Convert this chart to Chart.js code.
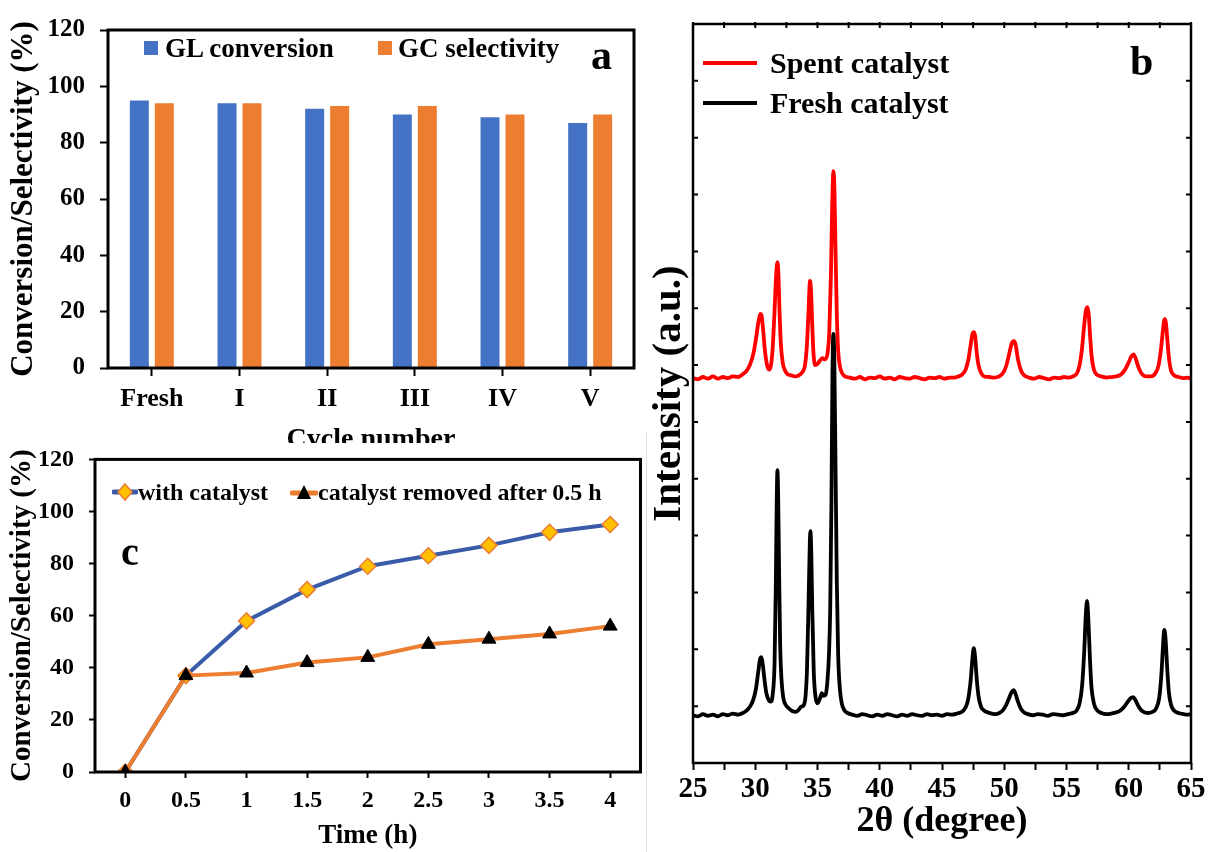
<!DOCTYPE html>
<html>
<head>
<meta charset="utf-8">
<script src="https://cdn.jsdelivr.net/npm/chart.js@4.4.0/dist/chart.umd.min.js"></script>
<style>
  body { margin: 0; background: #fff; }
  #page { position: relative; width: 1209px; height: 852px; overflow: hidden;
          font-family: "Liberation Serif", "Times New Roman", serif; font-weight: bold; color: #000; }
  .panel { position: absolute; }
  .txt { position: absolute; white-space: nowrap; line-height: 1; }
  .item { position: absolute; display: flex; align-items: center; white-space: nowrap; line-height: 1; }
</style>
</head>
<body>
<div id="page">
  <div class="panel" style="left:0;top:0;width:650px;height:443px;overflow:hidden">
    <canvas id="barChart" width="650" height="475"></canvas>
  </div>
  <div class="panel" style="left:0;top:430px;width:650px;height:422px">
    <canvas id="timeChart" width="650" height="422"></canvas>
  </div>
  <div class="panel" style="left:646px;top:432px;width:1px;height:420px;background:#dcdcdc"></div>
  <div class="panel" style="left:640px;top:0;width:569px;height:852px">
    <canvas id="xrdChart" width="569" height="852"></canvas>
  </div>
  <div class="txt" style="left:591px;top:34px;font-size:42px">a</div>
  <div class="txt" style="left:1130px;top:40px;font-size:42px">b</div>
  <div class="txt" style="left:121px;top:532px;font-size:40px">c</div>
</div>
<script>
Chart.defaults.font.family = '"Liberation Serif", "Times New Roman", serif';
Chart.defaults.font.weight = 'bold';
Chart.defaults.color = '#000';
Chart.defaults.animation = false;
Chart.defaults.plugins.legend.display = false;
Chart.defaults.plugins.tooltip.enabled = false;

// (a) recycling test
var cycles = ['Fresh', 'I', 'II', 'III', 'IV', 'V'];
var glConversion = [95, 94, 92, 90, 89, 87];
var gcSelectivity = [94, 94, 93, 93, 90, 90];

// (c) hot filtration test
var timeLabels = ['0', '0.5', '1', '1.5', '2', '2.5', '3', '3.5', '4'];
var withCatalyst = [0, 37, 58, 70, 79, 83, 87, 92, 95];
var catalystRemoved = [0, 37, 38, 42, 44, 49, 51, 53, 56];

// (b) XRD patterns, [2theta, intensity a.u.]
var spentPattern = [
  [25.0,6.77],[25.4,6.75],[25.8,6.79],[26.2,6.76],[26.6,6.80],[27.0,6.76],[27.4,6.79],[27.8,6.77],
  [28.2,6.80],[28.6,6.79],[29.0,6.84],[29.3,6.90],[29.6,7.02],[29.85,7.20],[30.05,7.45],[30.25,7.75],
  [30.4,7.90],[30.5,7.88],[30.62,7.65],[30.78,7.25],[30.95,7.00],[31.1,6.92],[31.25,6.98],[31.4,7.30],
  [31.55,7.95],[31.67,8.55],[31.78,8.81],[31.86,8.60],[31.95,7.95],[32.05,7.40],[32.2,7.05],[32.4,6.90],
  [32.6,6.84],[32.9,6.82],[33.2,6.80],[33.5,6.82],[33.8,6.88],[34.0,7.00],[34.15,7.35],[34.28,7.95],
  [34.4,8.48],[34.48,8.30],[34.57,7.75],[34.68,7.20],[34.82,7.00],[35.0,7.02],[35.2,7.08],[35.4,7.12],
  [35.6,7.10],[35.8,7.20],[35.95,7.60],[36.08,8.60],[36.18,9.80],[36.28,10.41],[36.36,10.10],[36.45,9.00],
  [36.55,7.90],[36.66,7.25],[36.8,6.98],[36.97,6.86],[37.2,6.80],[37.6,6.78],[38.0,6.76],[38.4,6.79],
  [38.8,6.75],[39.2,6.78],[39.6,6.77],[40.0,6.80],[40.4,6.76],[40.8,6.78],[41.2,6.75],[41.6,6.79],
  [42.0,6.77],[42.4,6.76],[42.8,6.79],[43.2,6.77],[43.6,6.75],[44.0,6.78],[44.4,6.77],[44.8,6.79],
  [45.2,6.76],[45.6,6.78],[46.0,6.78],[46.3,6.80],[46.6,6.83],[46.9,6.92],[47.1,7.08],[47.3,7.35],
  [47.45,7.55],[47.57,7.58],[47.67,7.50],[47.8,7.20],[47.95,6.98],[48.15,6.86],[48.4,6.80],[48.8,6.79],
  [49.2,6.78],[49.6,6.80],[49.9,6.86],[50.15,6.98],[50.4,7.20],[50.6,7.38],[50.78,7.42],[50.92,7.35],
  [51.1,7.10],[51.35,6.90],[51.6,6.82],[52.0,6.78],[52.4,6.76],[52.8,6.79],[53.2,6.77],[53.6,6.75],
  [54.0,6.78],[54.4,6.77],[54.8,6.79],[55.2,6.78],[55.6,6.81],[55.85,6.86],[56.05,7.00],[56.25,7.30],
  [56.42,7.70],[56.55,7.95],[56.68,8.02],[56.78,7.90],[56.9,7.50],[57.02,7.15],[57.2,6.92],[57.45,6.83],
  [57.8,6.80],[58.2,6.78],[58.6,6.79],[59.0,6.80],[59.4,6.84],[59.7,6.92],[60.0,7.05],[60.2,7.15],
  [60.38,7.19],[60.55,7.12],[60.75,6.98],[61.0,6.86],[61.4,6.80],[61.8,6.80],[62.15,6.86],[62.4,7.00],
  [62.6,7.30],[62.75,7.62],[62.88,7.81],[62.98,7.75],[63.1,7.45],[63.24,7.10],[63.4,6.90],[63.65,6.82],
  [64.0,6.79],[64.4,6.77],[64.7,6.78],[65.0,6.76]
];
var freshPattern = [
  [25.0,0.84],[25.4,0.82],[25.8,0.86],[26.2,0.83],[26.6,0.85],[27.0,0.82],[27.4,0.86],[27.8,0.84],
  [28.2,0.87],[28.6,0.85],[29.0,0.88],[29.3,0.92],[29.6,1.00],[29.85,1.12],[30.05,1.30],[30.25,1.62],
  [30.4,1.84],[30.5,1.86],[30.6,1.74],[30.75,1.45],[30.9,1.22],[31.1,1.10],[31.25,1.08],[31.4,1.20],
  [31.55,1.75],[31.65,3.10],[31.72,4.50],[31.78,5.15],[31.84,4.70],[31.92,3.30],[32.0,2.10],[32.1,1.50],
  [32.25,1.15],[32.45,1.02],[32.7,0.96],[33.0,0.91],[33.3,0.90],[33.5,0.94],[33.7,0.99],[33.9,1.02],
  [34.05,1.20],[34.15,1.60],[34.28,2.80],[34.38,3.85],[34.43,4.08],[34.5,3.70],[34.58,2.70],[34.7,1.60],
  [34.85,1.15],[35.0,1.05],[35.2,1.14],[35.35,1.23],[35.5,1.18],[35.65,1.20],[35.8,1.45],[35.92,1.90],
  [36.02,2.70],[36.12,4.60],[36.2,6.80],[36.27,7.55],[36.35,7.10],[36.45,5.20],[36.55,3.20],[36.66,1.90],
  [36.8,1.30],[36.95,1.05],[37.15,0.93],[37.4,0.88],[37.8,0.85],[38.2,0.83],[38.6,0.86],[39.0,0.84],
  [39.4,0.82],[39.8,0.85],[40.2,0.83],[40.6,0.86],[41.0,0.84],[41.4,0.82],[41.8,0.85],[42.2,0.83],
  [42.6,0.86],[43.0,0.84],[43.4,0.83],[43.8,0.86],[44.2,0.84],[44.6,0.85],[45.0,0.83],[45.4,0.86],
  [45.8,0.85],[46.2,0.87],[46.6,0.90],[46.9,0.98],[47.1,1.12],[47.3,1.45],[47.45,1.85],[47.55,2.02],
  [47.65,1.88],[47.8,1.45],[47.95,1.15],[48.15,0.98],[48.4,0.92],[48.7,0.89],[49.0,0.87],[49.3,0.86],
  [49.6,0.88],[49.9,0.93],[50.15,1.02],[50.4,1.15],[50.6,1.25],[50.75,1.28],[50.9,1.22],[51.1,1.08],
  [51.35,0.95],[51.6,0.89],[51.9,0.86],[52.3,0.84],[52.7,0.86],[53.1,0.85],[53.5,0.83],[53.9,0.86],
  [54.3,0.85],[54.7,0.84],[55.1,0.86],[55.5,0.88],[55.8,0.92],[56.05,1.05],[56.25,1.35],[56.42,1.95],
  [56.55,2.60],[56.65,2.85],[56.75,2.55],[56.88,1.85],[57.0,1.35],[57.2,1.05],[57.45,0.93],[57.8,0.88],
  [58.2,0.86],[58.6,0.87],[59.0,0.89],[59.3,0.92],[59.6,0.98],[59.9,1.07],[60.15,1.14],[60.35,1.16],
  [60.55,1.10],[60.8,0.99],[61.1,0.91],[61.5,0.88],[61.9,0.90],[62.2,0.96],[62.45,1.15],[62.62,1.55],
  [62.75,2.05],[62.85,2.34],[62.95,2.20],[63.08,1.70],[63.22,1.25],[63.4,1.02],[63.65,0.92],[64.0,0.88],
  [64.4,0.86],[64.7,0.85],[65.0,0.86]
];

// box around the plot area
var frame = {
  id: 'frame',
  afterDraw: function(chart, args, opts) {
    var a = chart.chartArea, ctx = chart.ctx;
    ctx.save();
    ctx.strokeStyle = '#000';
    ctx.lineWidth = opts.width || 3;
    ctx.strokeRect(a.left, a.top, a.right - a.left, a.bottom - a.top);
    ctx.restore();
  }
};

// ticks pointing into the plot (panel b)
var innerTicks = {
  id: 'innerTicks',
  afterDraw: function(chart) {
    var a = chart.chartArea, ctx = chart.ctx, sx = chart.scales.x, sy = chart.scales.y;
    ctx.save();
    ctx.strokeStyle = '#000';
    ctx.lineWidth = 2;
    ctx.beginPath();
    sy.ticks.forEach(function(t) {
      var py = sy.getPixelForValue(t.value);
      ctx.moveTo(a.left, py); ctx.lineTo(a.left + 5, py);
      ctx.moveTo(a.right, py); ctx.lineTo(a.right - 5, py);
    });
    sx.ticks.forEach(function(t) {
      var px = sx.getPixelForValue(t.value);
      ctx.moveTo(px, a.top - 2); ctx.lineTo(px, a.top + 4);
    });
    ctx.stroke();
    ctx.restore();
  }
};

var BLUE = '#4472C4', ORANGE = '#ED7D31', LINEBLUE = '#3A5BA7';

// ---------- (a) bar chart ----------
var barChart = new Chart(document.getElementById('barChart'), {
  type: 'bar',
  data: {
    labels: cycles,
    datasets: [
      { label: 'GL conversion', data: glConversion, backgroundColor: BLUE },
      { label: 'GC selectivity', data: gcSelectivity, backgroundColor: ORANGE }
    ]
  },
  options: {
    responsive: false,
    devicePixelRatio: 1,
    layout: { padding: { left: 0, top: 25, right: 16, bottom: 0 } },
    datasets: { bar: { categoryPercentage: 0.57, barPercentage: 0.76 } },
    scales: {
      x: {
        afterFit: function(s) { s.height = 107; },
        grid: { offset: false, drawOnChartArea: false, tickLength: 8, tickWidth: 2, tickColor: '#000' },
        border: { display: false },
        ticks: { font: { size: 26 }, padding: 8 },
        title: { display: true, text: 'Cycle number', font: { size: 28, lineHeight: 1 }, padding: { top: 0, bottom: 21 } }
      },
      y: {
        min: 0, max: 120,
        afterFit: function(s) { s.width = 108; },
        grid: { drawOnChartArea: false, tickLength: 8, tickWidth: 2, tickColor: '#000' },
        border: { display: false },
        ticks: { stepSize: 20, font: { size: 25 }, padding: 15 },
        title: { display: true, text: 'Conversion/Selectivity (%)', font: { size: 31, lineHeight: 1 }, padding: { top: 8, bottom: 0 } }
      }
    },
    plugins: { frame: { width: 3 } }
  },
  plugins: [frame]
});

// ---------- (c) time course ----------
var timeChart = new Chart(document.getElementById('timeChart'), {
  type: 'line',
  data: {
    labels: timeLabels,
    datasets: [
      { label: 'with catalyst', data: withCatalyst, order: 1,
        borderColor: LINEBLUE, borderWidth: 4, tension: 0,
        pointStyle: 'rectRot', pointRadius: 8, pointBackgroundColor: '#FFC000',
        pointBorderColor: ORANGE, pointBorderWidth: 1.5 },
      { label: 'catalyst removed after 0.5 h', data: catalystRemoved, order: 0,
        borderColor: ORANGE, borderWidth: 4, tension: 0,
        pointStyle: 'triangle', pointRadius: 8, pointBackgroundColor: '#000',
        pointBorderColor: '#000', pointBorderWidth: 1 }
    ]
  },
  options: {
    responsive: false,
    devicePixelRatio: 1,
    layout: { padding: { left: 0, top: 25, right: 7, bottom: 0 } },
    scales: {
      x: {
        offset: true,
        afterFit: function(s) { s.height = 80; },
        grid: { offset: false, drawOnChartArea: false, tickLength: 6, tickWidth: 2, tickColor: '#000' },
        border: { display: false },
        ticks: { font: { size: 24 }, padding: 8 },
        title: { display: true, text: 'Time (h)', font: { size: 27, lineHeight: 1 }, padding: { top: 0, bottom: 2 } }
      },
      y: {
        min: 0, max: 120,
        afterFit: function(s) { s.width = 95; },
        grid: { drawOnChartArea: false, tickLength: 6, tickWidth: 2, tickColor: '#000' },
        border: { display: false },
        ticks: { stepSize: 20, font: { size: 24 }, padding: 15 },
        title: { display: true, text: 'Conversion/Selectivity (%)', font: { size: 29, lineHeight: 1 }, padding: { top: 8, bottom: 0 } }
      }
    },
    plugins: { frame: { width: 3 } }
  },
  plugins: [frame]
});

// ---------- (b) XRD ----------
function toPoints(pattern) {
  return pattern.map(function(p) { return { x: p[0], y: p[1] }; });
}
var xrdChart = new Chart(document.getElementById('xrdChart'), {
  type: 'line',
  data: {
    datasets: [
      { label: 'Spent catalyst', data: toPoints(spentPattern), order: 1,
        borderColor: '#FF0000', borderWidth: 3.8, pointRadius: 0, cubicInterpolationMode: 'monotone' },
      { label: 'Fresh catalyst', data: toPoints(freshPattern), order: 0,
        borderColor: '#000', borderWidth: 3.8, pointRadius: 0, cubicInterpolationMode: 'monotone' }
    ]
  },
  options: {
    responsive: false,
    devicePixelRatio: 1,
    layout: { padding: { left: 0, top: 24, right: 18, bottom: 0 } },
    scales: {
      x: {
        type: 'linear', min: 25, max: 65,
        afterFit: function(s) { s.height = 89; },
        grid: { drawOnChartArea: false, tickLength: 7, tickWidth: 2, tickColor: '#000' },
        border: { display: false },
        ticks: { stepSize: 2.5, font: { size: 29 }, padding: 2, maxRotation: 0, autoSkip: false,
                 callback: function(v) { return v % 5 === 0 ? v : ''; } },
        title: { display: true, text: '2θ (degree)', font: { size: 36, lineHeight: 1 }, padding: { top: 0, bottom: 12 } }
      },
      y: {
        min: 0, max: 13,
        afterFit: function(s) { s.width = 53; },
        grid: { drawOnChartArea: false, drawTicks: false },
        border: { display: false },
        ticks: { stepSize: 1, display: false },
        title: { display: true, text: 'Intensity (a.u.)', font: { size: 41, lineHeight: 1 }, padding: { top: 9, bottom: 0 } }
      }
    },
    plugins: { frame: { width: 2.5 } }
  },
  plugins: [frame, innerTicks]
});

// ---------- HTML legends ----------
var page = document.getElementById('page');
function addItem(x, y, size, markerHtml, text, gap) {
  var d = document.createElement('div');
  d.className = 'item';
  d.style.left = x + 'px';
  d.style.top = (y - size / 2) + 'px';
  d.style.height = size + 'px';
  d.style.fontSize = size + 'px';
  d.innerHTML = markerHtml + '<span style="margin-left:' + gap + 'px">' + text + '</span>';
  page.appendChild(d);
}
function square(color) {
  return '<span style="display:inline-block;width:14px;height:14px;background:' + color + '"></span>';
}
function lineMark(color) {
  return '<span style="display:inline-block;width:54px;height:4px;background:' + color + '"></span>';
}
var diamondMark = '<svg width="26" height="20"><line x1="2" y1="10" x2="24" y2="10" stroke="' + LINEBLUE +
  '" stroke-width="5" stroke-linecap="round"/><polygon points="13,2 20,10 13,18 6,10" fill="#FFC000" stroke="' +
  ORANGE + '" stroke-width="1.5"/></svg>';
var triangleMark = '<svg width="28" height="20"><line x1="2" y1="11" x2="26" y2="11" stroke="' + ORANGE +
  '" stroke-width="5" stroke-linecap="round"/><polygon points="14,3 21,17 7,17" fill="#000"/></svg>';

var dsA = barChart.data.datasets;
addItem(144, 48, 27, square(dsA[0].backgroundColor), dsA[0].label, 7);
addItem(378, 48, 27, square(dsA[1].backgroundColor), dsA[1].label, 6);

var dsC = timeChart.data.datasets;
addItem(112, 492, 24, diamondMark, dsC[0].label, 0);
addItem(290, 492, 24, triangleMark, dsC[1].label, 0);

var dsB = xrdChart.data.datasets;
addItem(703, 63, 30, lineMark(dsB[0].borderColor), dsB[0].label, 13);
addItem(703, 103, 30, lineMark(dsB[1].borderColor), dsB[1].label, 13);
</script>
</body>
</html>
